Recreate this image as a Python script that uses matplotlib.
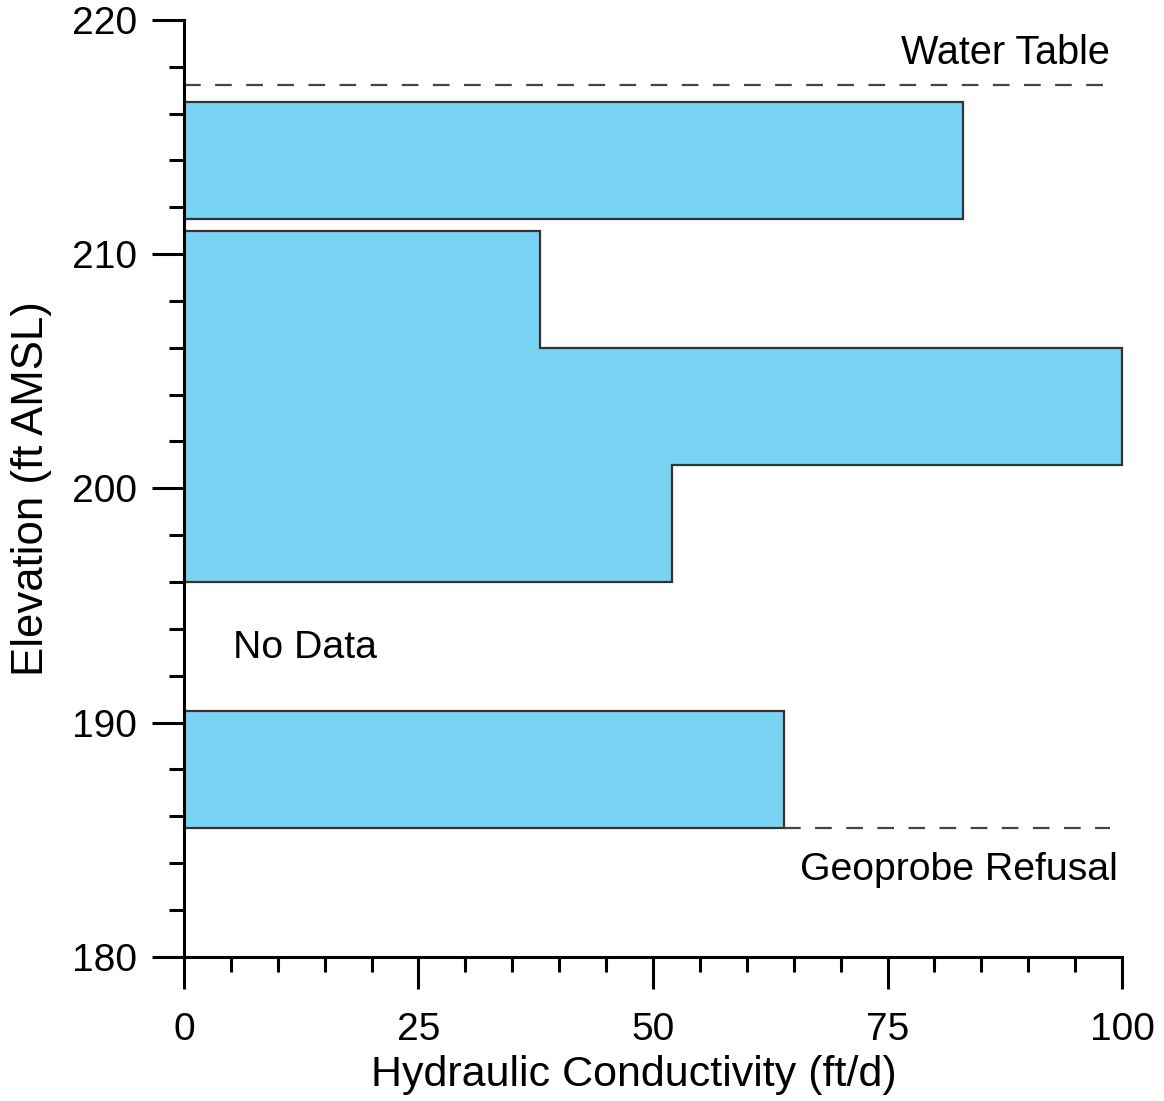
import numpy as np
import matplotlib.pyplot as plt

plt.rcParams['font.family'] = ['Liberation Sans', 'DejaVu Sans']

# hydraulic conductivity intervals (elevation edges in ft AMSL, K in ft/d)
upper_edges = [211.5, 216.5]
upper_k = [83]
middle_edges = [196, 201, 206, 211]
middle_k = [52, 100, 38]
lower_edges = [185.5, 190.5]
lower_k = [64]

water_table = 217.2
refusal = 185.5

fill_color = '#79d4f4'
edge_color = '#333333'

fig = plt.figure(figsize=(11.64, 11.01), dpi=100)
ax = fig.add_axes([0.158, 0.131, 0.806, 0.851])

for edges, k in [(upper_edges, upper_k), (middle_edges, middle_k), (lower_edges, lower_k)]:
    ax.stairs(k, edges, orientation='horizontal', baseline=0, fill=True,
              facecolor=fill_color, edgecolor=edge_color, linewidth=1.6,
              clip_on=False, zorder=2)

dash = (0, (7.5, 6.5))
ax.plot([0, 98.7], [water_table, water_table], ls=dash, color='#444444', lw=1.6)
ax.plot([lower_k[0], 98.7], [refusal, refusal], ls=dash, color='#444444', lw=1.6)

ax.text(98.7, 218.6, 'Water Table', ha='right', va='center', fontsize=28.5)
ax.text(99.5, 183.7, 'Geoprobe Refusal', ha='right', va='center', fontsize=28.3)
ax.text(5.2, 193.2, 'No Data', ha='left', va='center', fontsize=28.3)

ax.set_xlim(0, 100)
ax.set_ylim(180, 220)
ax.set_xticks(np.arange(0, 101, 25))
ax.set_xticks(np.arange(0, 101, 5), minor=True)
ax.set_yticks(np.arange(180, 221, 10))
ax.set_yticks(np.arange(180, 221, 2), minor=True)

for s in ['top', 'right']:
    ax.spines[s].set_visible(False)
for s in ['left', 'bottom']:
    ax.spines[s].set_linewidth(2.2)

ax.tick_params(which='major', length=23, width=2.2, labelsize=28)
ax.tick_params(axis='x', which='major', pad=17)
ax.tick_params(axis='y', which='major', pad=11)
ax.tick_params(which='minor', length=11, width=2.2)

ax.set_xlabel('Hydraulic Conductivity (ft/d)', fontsize=31, labelpad=5)
ax.xaxis.set_label_coords(0.48, -0.105)
ax.set_ylabel('Elevation (ft AMSL)', fontsize=31.5, labelpad=14)

fig.savefig('out.png', dpi=100)
